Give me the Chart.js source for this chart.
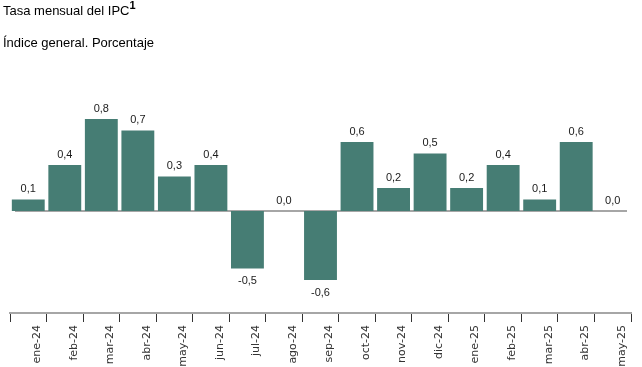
<!DOCTYPE html>
<html><head><meta charset="utf-8">
<script src="https://cdn.jsdelivr.net/npm/chart.js@4/dist/chart.umd.min.js"></script>
<style>
html,body{margin:0;padding:0;background:#fff;}
#wrap{position:relative;width:642px;height:367px;}
#c{position:absolute;left:0;top:0;}
.t{position:absolute;left:3px;font-family:"Liberation Sans",Arial,sans-serif;color:#000;white-space:nowrap;}
#t1{top:3px;font-size:13px;}
#t1 sup{font-size:11px;font-weight:bold;vertical-align:6px;line-height:0;}
#t2{top:35px;font-size:13px;}
</style></head><body>
<div id="wrap">
<canvas id="c" width="642" height="367"></canvas>
<div class="t" id="t1">Tasa mensual del IPC<sup>1</sup></div>
<div class="t" id="t2">Índice general. Porcentaje</div>
</div>
<script>
const categories = ["ene-24","feb-24","mar-24","abr-24","may-24","jun-24","jul-24","ago-24","sep-24","oct-24","nov-24","dic-24","ene-25","feb-25","mar-25","abr-25","may-25"];
const values = [0.1,0.4,0.8,0.7,0.3,0.4,-0.5,0.0,-0.6,0.6,0.2,0.5,0.2,0.4,0.1,0.6,0.0];

const labelPlugin = {
  id:'vals',
  beforeDatasetsDraw(chart){
    const ctx=chart.ctx, a=chart.chartArea, y0=chart.scales.y.getPixelForValue(0);
    ctx.save();
    ctx.strokeStyle='#a6a6a6'; ctx.lineWidth=2;
    ctx.beginPath(); ctx.moveTo(a.left+5,y0); ctx.lineTo(a.right-4,y0); ctx.stroke();
    ctx.restore();
  },
  afterDatasetsDraw(chart){
    const ctx=chart.ctx, meta=chart.getDatasetMeta(0);
    ctx.save();
    ctx.font='11px "Liberation Sans", Arial, sans-serif';
    ctx.fillStyle='#1a1a1a'; ctx.textAlign='center';
    meta.data.forEach((bar,i)=>{
      const v=values[i];
      const txt=v.toFixed(1).replace('.',',');
      if(v<0){ ctx.textBaseline='top'; ctx.fillText(txt,bar.x,bar.y+7); }
      else { ctx.textBaseline='bottom'; ctx.fillText(txt,bar.x,bar.y-5); }
    });
    ctx.restore();
  }
};

new Chart(document.getElementById('c'),{
  type:'bar',
  data:{labels:categories,datasets:[{data:values,backgroundColor:'#467d74',barPercentage:0.9,categoryPercentage:1}]},
  options:{
    responsive:false,animation:false,
    layout:{padding:{left:10,right:11,top:60,bottom:0}},
    plugins:{legend:{display:false},tooltip:{enabled:false},title:{display:false}},
    scales:{
      x:{
        afterFit(s){s.height=54;},
        grid:{offset:true,drawOnChartArea:false,drawTicks:true,tickLength:9,color:'#333',lineWidth:1},
        border:{display:true,color:'#a6a6a6',width:2},
        ticks:{maxRotation:90,minRotation:90,autoSkip:false,padding:3,labelOffset:9,color:'#333',font:{family:'"DejaVu Sans", Verdana, sans-serif',size:11}}
      },
      y:{display:false,min:-0.887,max:1.313}
    }
  },
  plugins:[labelPlugin]
});
</script>
</body></html>
